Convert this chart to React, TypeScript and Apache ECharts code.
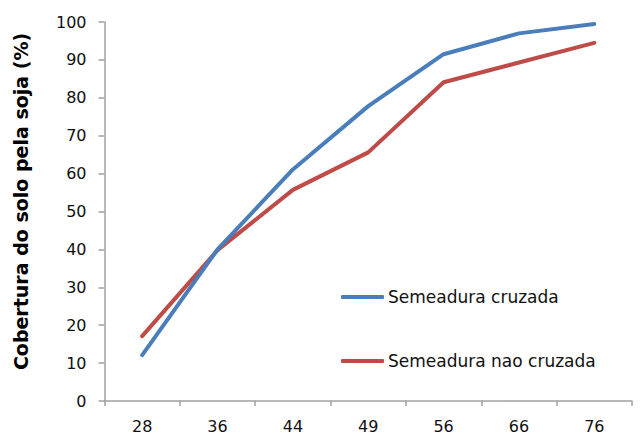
import React, { useEffect, useRef } from "react";
import * as echarts from "echarts";

const categories = ["28", "36", "44", "49", "56", "66", "76"];
const cruzada = [12.1, 40, 61.1, 77.8, 91.5, 97, 99.5];
const naoCruzada = [17.1, 39.8, 55.7, 65.6, 84.1, 89.3, 94.5];
const yTitle = "Cobertura do solo pela soja (%)";
const seriesNames = ["Semeadura cruzada", "Semeadura nao cruzada"];

export default function App() {
  const ref = useRef<HTMLDivElement>(null);
  useEffect(() => {
    if (!ref.current) return;
    const chart = echarts.init(ref.current, null, { renderer: "svg" });
    const axisColor = "#a0a0a0";
    const font = "'DejaVu Sans', sans-serif";
    chart.setOption({
      animation: false,
      backgroundColor: "#ffffff",
      textStyle: { fontFamily: font },
      grid: { left: 104.5, right: 9, top: 22, bottom: 33, containLabel: false },
      legend: {
        orient: "vertical",
        left: 341,
        top: 287,
        padding: 0,
        itemWidth: 43,
        itemHeight: 4,
        itemGap: 44,
        icon: "roundRect",
        data: seriesNames,
        textStyle: { fontSize: 17, lineHeight: 20, color: "#111", fontFamily: font, padding: [0, 0, 0, -1] },
      },
      xAxis: {
        type: "category",
        data: categories,
        boundaryGap: true,
        axisLine: { lineStyle: { color: axisColor, width: 1.5 } },
        axisTick: { show: true, length: 5, lineStyle: { color: axisColor, width: 1.5 } },
        axisLabel: { color: "#111", fontSize: 16, margin: 17, fontFamily: font },
        splitLine: { show: false },
      },
      yAxis: {
        type: "value",
        min: 0,
        max: 100,
        interval: 10,
        name: yTitle,
        nameLocation: "middle",
        nameGap: 74,
        nameTextStyle: { fontSize: 19, fontWeight: "bold", color: "#000", fontFamily: font, padding: [0, 0, 0, 20] },
        axisLine: { show: true, lineStyle: { color: axisColor, width: 1.5 } },
        axisTick: { show: true, length: 6, lineStyle: { color: axisColor, width: 1.5 } },
        axisLabel: { color: "#111", fontSize: 16, margin: 18, fontFamily: font },
        splitLine: { show: false },
      },
      series: [
        {
          name: seriesNames[0],
          type: "line",
          data: cruzada,
          symbol: "none",
          color: "#4a7ebb",
          lineStyle: { width: 4, color: "#4a7ebb", cap: "round", join: "round" },
          z: 3,
        },
        {
          name: seriesNames[1],
          type: "line",
          data: naoCruzada,
          symbol: "none",
          color: "#be4b48",
          lineStyle: { width: 4, color: "#be4b48", cap: "round", join: "round" },
          z: 2,
        },
      ],
    });
    return () => chart.dispose();
  }, []);
  return <div ref={ref} style={{ width: 641, height: 434, position: "absolute", left: 0, top: 0 }} />;
}
